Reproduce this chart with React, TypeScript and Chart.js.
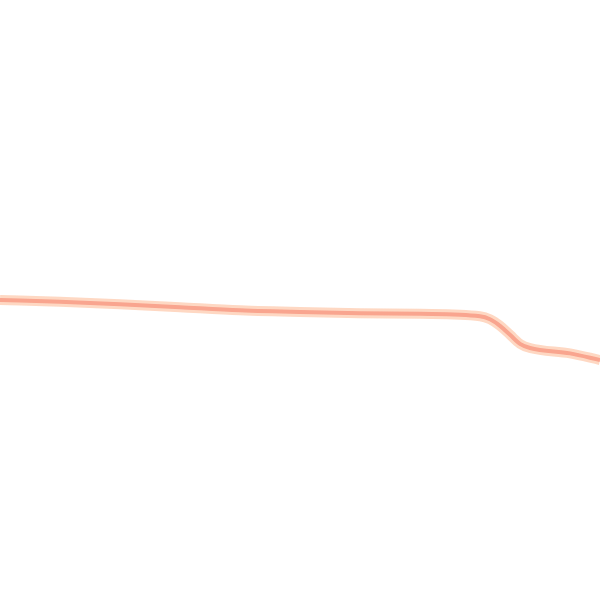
import { useEffect, useRef } from 'react';
import { Chart, registerables } from 'chart.js';

Chart.register(...registerables);

// horizontal position (0–600) and value (0–100) of the line
const positions = [0, 60, 120, 180, 240, 300, 360, 420, 480, 490, 500, 510, 520, 530, 570, 600];
const values = [50.0, 49.7, 49.3, 48.8, 48.3, 48.0, 47.8, 47.7, 47.3, 46.8, 45.7, 44.2, 42.7, 42.0, 41.1, 40.0];

const points = positions.map((x, i) => ({ x, y: values[i] }));

export default function App() {
  const canvasRef = useRef<HTMLCanvasElement>(null);

  useEffect(() => {
    if (!canvasRef.current) return;
    const chart = new Chart(canvasRef.current, {
      type: 'line',
      data: {
        datasets: [
          {
            data: points,
            borderColor: '#f9a58f',
            borderWidth: 4,
            pointRadius: 0,
            cubicInterpolationMode: 'monotone',
          },
          {
            data: points,
            borderColor: 'rgba(253, 200, 170, 0.7)',
            borderWidth: 10,
            pointRadius: 0,
            cubicInterpolationMode: 'monotone',
          },
        ],
      },
      options: {
        animation: false,
        responsive: true,
        maintainAspectRatio: false,
        layout: { padding: 0 },
        plugins: { legend: { display: false }, tooltip: { enabled: false } },
        scales: {
          x: { type: 'linear', min: 0, max: 600, display: false },
          y: { min: 0, max: 100, display: false },
        },
      },
    });
    return () => chart.destroy();
  }, []);

  return (
    <div style={{ position: 'fixed', left: 0, top: 0, width: 600, height: 600, background: '#fff' }}>
      <canvas ref={canvasRef} />
    </div>
  );
}
